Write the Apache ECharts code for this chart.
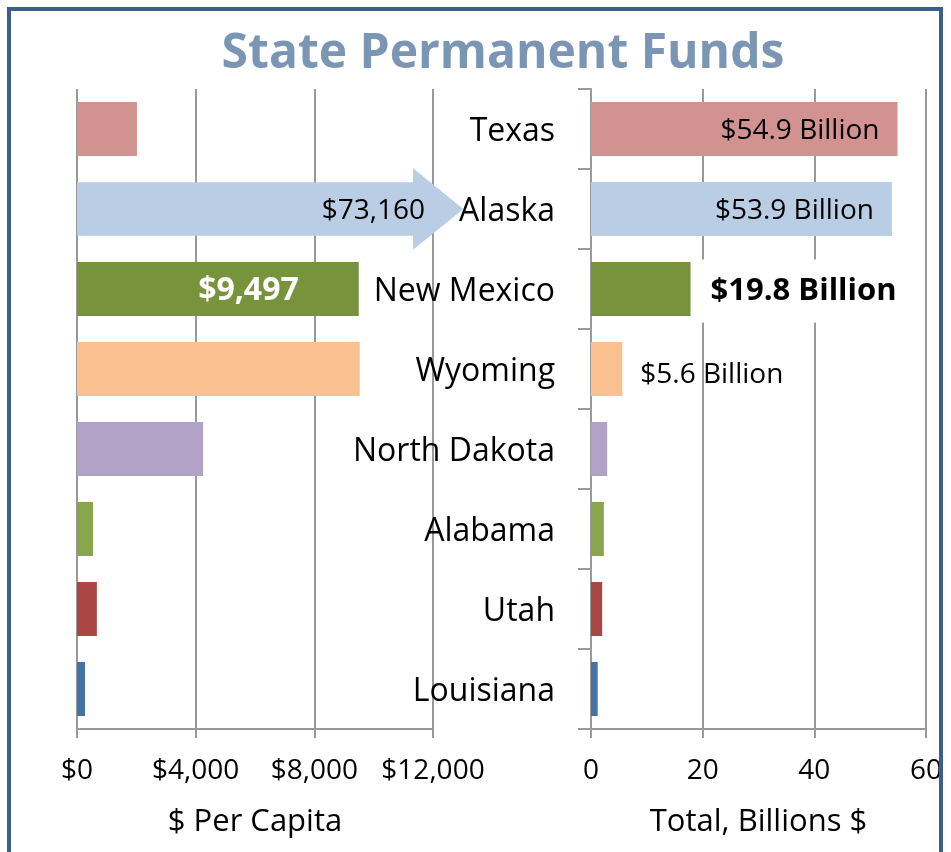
<!DOCTYPE html>
<html>
<head>
<meta charset="utf-8">
<title>State Permanent Funds</title>
<script src="https://cdn.jsdelivr.net/npm/echarts@6/dist/echarts.min.js"></script>
<style>
html, body { margin: 0; padding: 0; background: #fff; }
#chart { width: 951px; height: 852px; }
</style>
</head>
<body>
<div id="chart"></div>
<script>
// data
var states = ['Texas', 'Alaska', 'New Mexico', 'Wyoming', 'North Dakota', 'Alabama', 'Utah', 'Louisiana'];
var perCapita = [2020, 73160, 9497, 9530, 4250, 540, 670, 270];
var totalBillions = [54.9, 53.9, 19.8, 5.6, 2.9, 2.3, 2.0, 1.2];
var barColors = ['#D2928F', '#B9CDE5', '#77933C', '#FAC090', '#B3A2C7', '#89A54E', '#AA4643', '#4572A7'];
var perCapitaTicks = [0, 4000, 8000, 12000];
var totalTicks = [0, 20, 40, 60];

var FONT = '"Open Sans", "Noto Sans", sans-serif';
var perCapitaMax = perCapitaTicks[perCapitaTicks.length - 1];
var gridColor = '#999';

function money(v) {
  return '$' + v.toLocaleString('en-US');
}
function billions(v) {
  return '$' + v.toFixed(1) + ' Billion';
}

var chart = echarts.init(document.getElementById('chart'));

// left bars (values off the scale are drawn as an arrow below)
var leftData = perCapita.map(function (v, i) {
  if (v > perCapitaMax) return '-';
  var item = { value: v, itemStyle: { color: barColors[i] } };
  if (states[i] === 'New Mexico') {
    item.label = {
      show: true, position: 'insideRight', distance: 60, offset: [0, 2],
      formatter: money(v), color: '#fff', fontSize: 32, fontWeight: 'bold', fontFamily: FONT
    };
  }
  return item;
});
var arrowData = [];
perCapita.forEach(function (v, i) {
  if (v > perCapitaMax) arrowData.push([v, i]);
});

var rightData = totalBillions.map(function (v, i) {
  var item = { value: v, itemStyle: { color: barColors[i] } };
  var base = { show: true, formatter: billions(v), color: '#000', fontSize: 28, fontFamily: FONT, offset: [0, 2] };
  if (i < 2) {
    item.label = Object.assign(base, { position: 'insideRight', distance: 18 });
  } else if (states[i] === 'New Mexico') {
    item.label = Object.assign(base, {
      position: 'right', distance: 0, offset: [-11, 2],
      fontSize: 31, fontWeight: 'bold', backgroundColor: '#fff', padding: [16, 23, 16, 20]
    });
  } else if (states[i] === 'Wyoming') {
    item.label = Object.assign(base, { position: 'right', distance: 18, offset: [0, 6] });
  }
  return item;
});

chart.setOption({
  animation: false,
  title: {
    text: 'State Permanent Funds',
    left: 498, top: 25, textAlign: 'center',
    textStyle: { color: '#7B96B4', fontSize: 48, fontWeight: 'bold', fontFamily: FONT }
  },
  grid: [
    { left: 77, top: 89, width: 356, height: 640 },
    { left: 591, top: 89, width: 335, height: 640 }
  ],
  xAxis: [
    {
      gridIndex: 0, type: 'value', min: 0, max: perCapitaMax, interval: 4000,
      name: '$ Per Capita', nameLocation: 'middle', nameGap: 78,
      nameTextStyle: { fontSize: 31, color: '#000', fontFamily: FONT },
      axisLine: { show: true, lineStyle: { color: gridColor, width: 2 } },
      axisTick: { show: true, length: 9, lineStyle: { color: gridColor, width: 2 } },
      axisLabel: { margin: 28, fontSize: 28, color: '#000', fontFamily: FONT, formatter: money },
      splitLine: { show: true, lineStyle: { color: gridColor, width: 2 } }
    },
    {
      gridIndex: 1, type: 'value', min: totalTicks[0], max: totalTicks[totalTicks.length - 1], interval: 20,
      name: 'Total, Billions $', nameLocation: 'middle', nameGap: 78,
      nameTextStyle: { fontSize: 31, color: '#000', fontFamily: FONT },
      axisLine: { show: true, lineStyle: { color: gridColor, width: 2 } },
      axisTick: { show: true, length: 9, lineStyle: { color: gridColor, width: 2 } },
      axisLabel: { margin: 28, fontSize: 28, color: '#000', fontFamily: FONT },
      splitLine: { show: true, lineStyle: { color: gridColor, width: 2 } }
    }
  ],
  yAxis: [
    {
      gridIndex: 0, type: 'category', data: states, inverse: true,
      axisLine: { show: false }, axisTick: { show: false }, axisLabel: { show: false }
    },
    {
      gridIndex: 1, type: 'category', data: states, inverse: true,
      axisLine: { show: true, lineStyle: { color: gridColor, width: 2 } },
      axisTick: { show: true, length: 13, lineStyle: { color: gridColor, width: 2 } },
      axisLabel: {
        margin: 36, fontFamily: FONT,
        formatter: function (v) { return '{s|' + v + '}'; },
        rich: { s: { fontSize: 32, color: '#000', fontFamily: FONT, padding: [6, 0, 0, 0] } }
      }
    }
  ],
  series: [
    {
      type: 'bar', xAxisIndex: 0, yAxisIndex: 0, barWidth: 54,
      data: leftData
    },
    {
      type: 'custom', xAxisIndex: 0, yAxisIndex: 0, clip: false,
      encode: { x: 0, y: 1 },
      data: arrowData,
      renderItem: function (params, api) {
        var idx = api.value(1);
        var start = api.coord([0, idx]);
        var band = api.size([0, 1])[1];
        var bodyEnd = api.coord([perCapitaMax * 0.944, idx])[0];
        var tip = api.coord([perCapitaMax * 1.085, idx])[0];
        var y = start[1];
        var bh = band * 0.335, hh = band * 0.51;
        return {
          type: 'group',
          children: [
            {
              type: 'polygon',
              shape: { points: [
                [start[0], y - bh], [bodyEnd, y - bh], [bodyEnd, y - hh], [tip, y],
                [bodyEnd, y + hh], [bodyEnd, y + bh], [start[0], y + bh]
              ] },
              style: { fill: barColors[idx] }
            },
            {
              type: 'text',
              style: {
                x: bodyEnd + 12, y: y + 2, text: money(api.value(0)),
                align: 'right', verticalAlign: 'middle',
                fontSize: 28, fontFamily: FONT, fill: '#000'
              }
            }
          ]
        };
      }
    },
    {
      type: 'bar', xAxisIndex: 1, yAxisIndex: 1, barWidth: 54,
      data: rightData
    }
  ],
  graphic: [
    {
      type: 'rect', z: 100, silent: true,
      shape: { x: 9, y: 9, width: 932, height: 900 },
      style: { fill: 'none', stroke: '#3B5E8C', lineWidth: 4 }
    }
  ]
});
</script>
</body>
</html>
